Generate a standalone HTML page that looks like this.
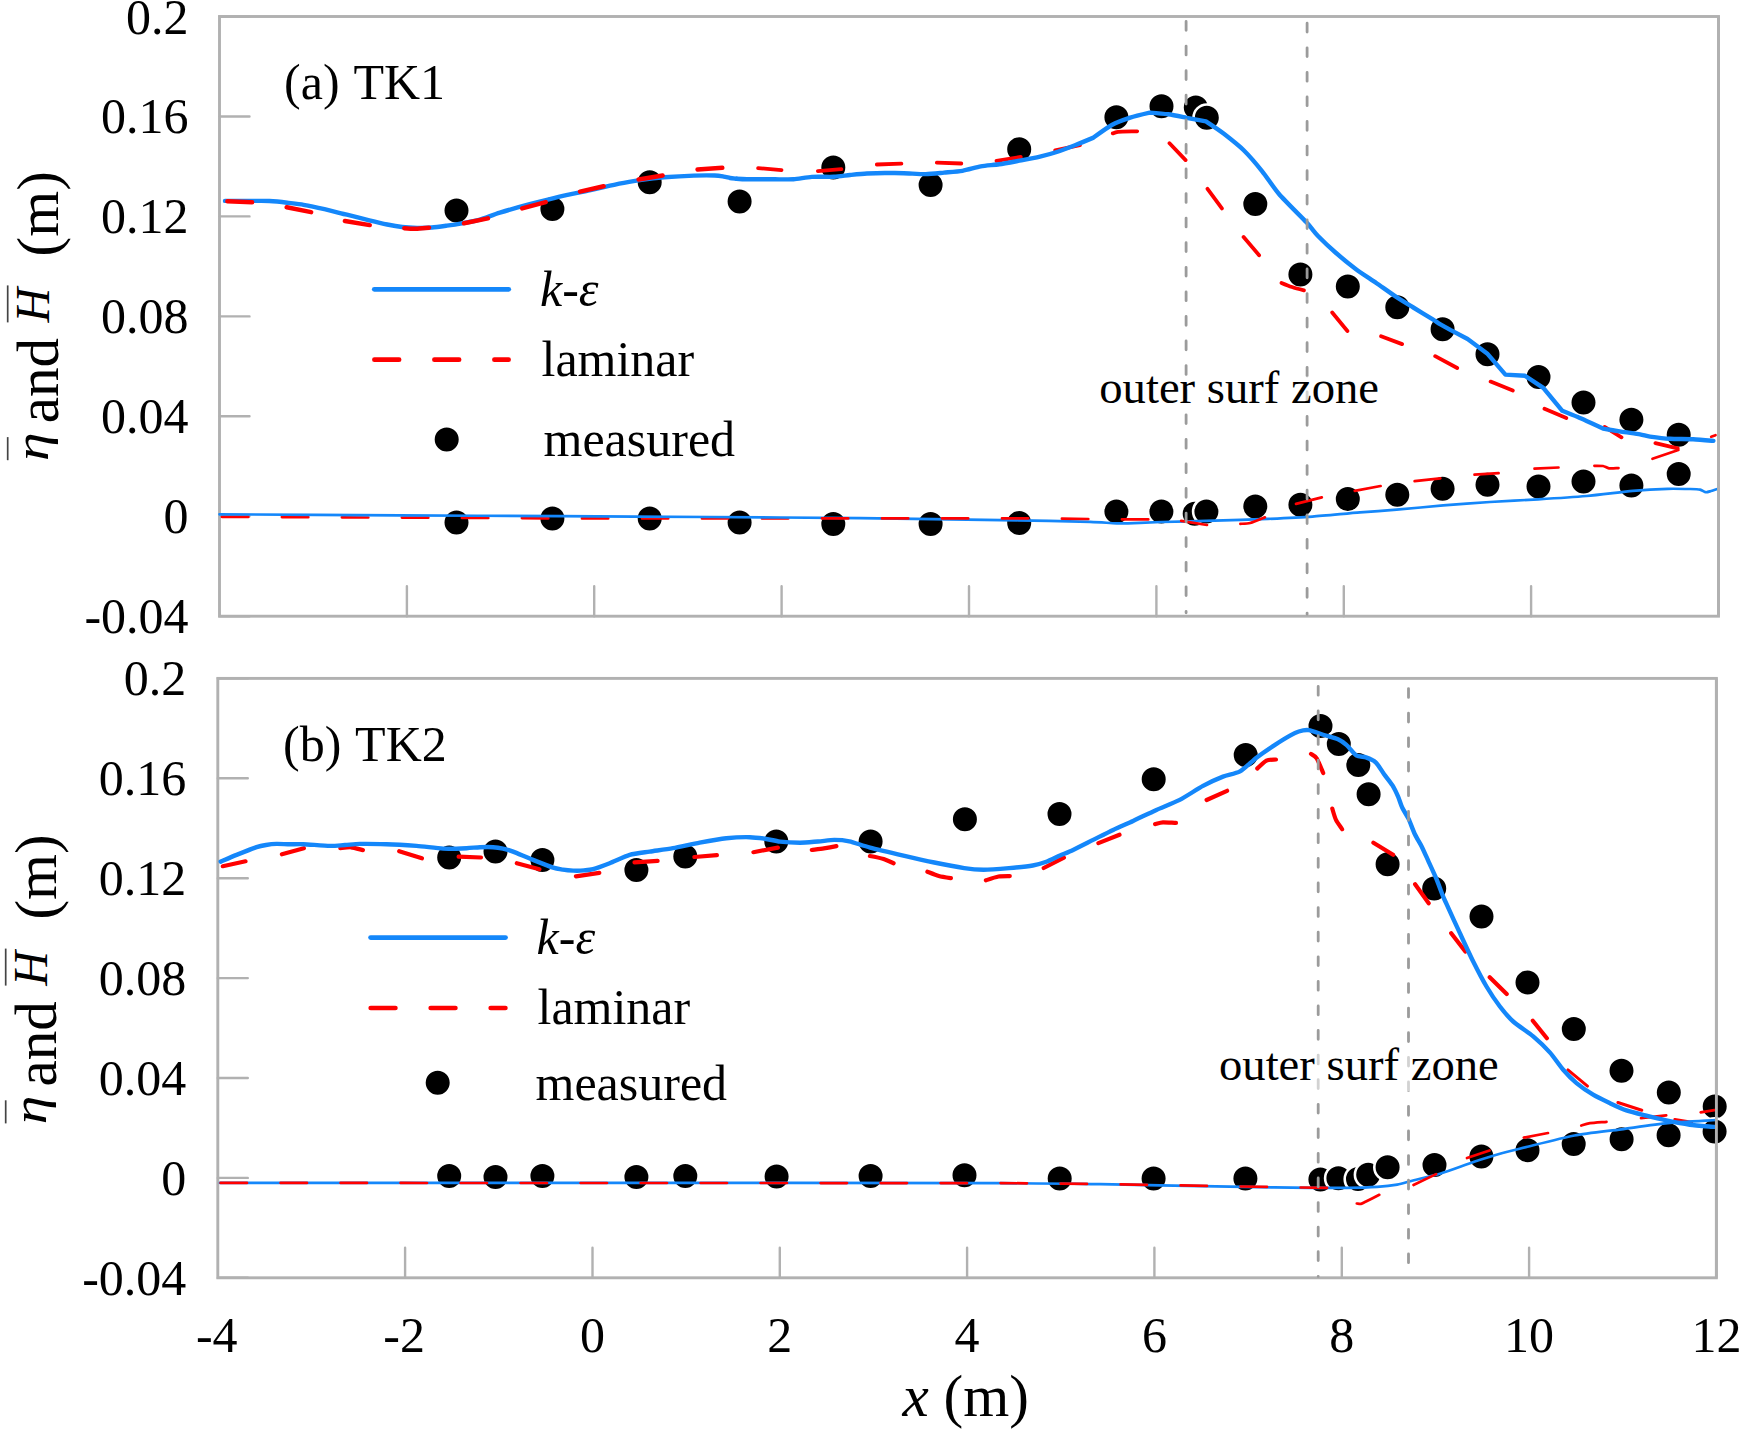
<!DOCTYPE html>
<html lang="en"><head><meta charset="utf-8"><title>Wave height and setup: TK1 and TK2</title>
<style>html,body{margin:0;padding:0;background:#fff}svg{display:block}</style></head>
<body>
<svg width="1742" height="1429" viewBox="0 0 1742 1429" font-family="'Liberation Serif','Times New Roman',serif" fill="#000">
<rect width="1742" height="1429" fill="#fff"/>
<path d="M406.9,616.2 L406.9,586.2 M594.2,616.2 L594.2,586.2 M781.6,616.2 L781.6,586.2 M969,616.2 L969,586.2 M1156.4,616.2 L1156.4,586.2 M1343.8,616.2 L1343.8,586.2 M1531.1,616.2 L1531.1,586.2 M219.5,16.5 L249.5,16.5 M219.5,116.5 L249.5,116.5 M219.5,216.4 L249.5,216.4 M219.5,316.4 L249.5,316.4 M219.5,416.3 L249.5,416.3 M219.5,516.2 L249.5,516.2 M219.5,616.2 L249.5,616.2" fill="none" stroke="#b1b1b1" stroke-width="2.4" stroke-linecap="round"/>
<rect x="219.5" y="16.5" width="1499" height="599.7" fill="none" stroke="#b1b1b1" stroke-width="2.9"/>
<circle cx="456.5" cy="210.6" r="13.3" fill="#000" stroke="#fff" stroke-width="2.6"/>
<circle cx="552.4" cy="208.9" r="13.3" fill="#000" stroke="#fff" stroke-width="2.6"/>
<circle cx="649.7" cy="182.3" r="13.3" fill="#000" stroke="#fff" stroke-width="2.6"/>
<circle cx="739.6" cy="201.6" r="13.3" fill="#000" stroke="#fff" stroke-width="2.6"/>
<circle cx="833.3" cy="167.6" r="13.3" fill="#000" stroke="#fff" stroke-width="2.6"/>
<circle cx="930.6" cy="184.9" r="13.3" fill="#000" stroke="#fff" stroke-width="2.6"/>
<circle cx="1019.2" cy="149.3" r="13.3" fill="#000" stroke="#fff" stroke-width="2.6"/>
<circle cx="1116.4" cy="117.3" r="13.3" fill="#000" stroke="#fff" stroke-width="2.6"/>
<circle cx="1161.5" cy="106.3" r="13.3" fill="#000" stroke="#fff" stroke-width="2.6"/>
<circle cx="1195.8" cy="107.5" r="13.3" fill="#000" stroke="#fff" stroke-width="2.6"/>
<circle cx="1206.8" cy="117.8" r="13.3" fill="#000" stroke="#fff" stroke-width="2.6"/>
<circle cx="1255.3" cy="203.9" r="13.3" fill="#000" stroke="#fff" stroke-width="2.6"/>
<circle cx="1300.4" cy="274.6" r="13.3" fill="#000" stroke="#fff" stroke-width="2.6"/>
<circle cx="1347.8" cy="286.5" r="13.3" fill="#000" stroke="#fff" stroke-width="2.6"/>
<circle cx="1397.3" cy="307.2" r="13.3" fill="#000" stroke="#fff" stroke-width="2.6"/>
<circle cx="1442.6" cy="329.2" r="13.3" fill="#000" stroke="#fff" stroke-width="2.6"/>
<circle cx="1487.5" cy="354.2" r="13.3" fill="#000" stroke="#fff" stroke-width="2.6"/>
<circle cx="1538.5" cy="377.1" r="13.3" fill="#000" stroke="#fff" stroke-width="2.6"/>
<circle cx="1583.5" cy="402.5" r="13.3" fill="#000" stroke="#fff" stroke-width="2.6"/>
<circle cx="1631.4" cy="419.8" r="13.3" fill="#000" stroke="#fff" stroke-width="2.6"/>
<circle cx="1678.7" cy="434.8" r="13.3" fill="#000" stroke="#fff" stroke-width="2.6"/>
<circle cx="456.5" cy="522.5" r="13.3" fill="#000" stroke="#fff" stroke-width="2.6"/>
<circle cx="552.4" cy="518.5" r="13.3" fill="#000" stroke="#fff" stroke-width="2.6"/>
<circle cx="649.7" cy="518.5" r="13.3" fill="#000" stroke="#fff" stroke-width="2.6"/>
<circle cx="739.6" cy="522.5" r="13.3" fill="#000" stroke="#fff" stroke-width="2.6"/>
<circle cx="833.3" cy="524" r="13.3" fill="#000" stroke="#fff" stroke-width="2.6"/>
<circle cx="930.6" cy="524" r="13.3" fill="#000" stroke="#fff" stroke-width="2.6"/>
<circle cx="1019.2" cy="523" r="13.3" fill="#000" stroke="#fff" stroke-width="2.6"/>
<circle cx="1116.4" cy="511.4" r="13.3" fill="#000" stroke="#fff" stroke-width="2.6"/>
<circle cx="1161.4" cy="511.4" r="13.3" fill="#000" stroke="#fff" stroke-width="2.6"/>
<circle cx="1194.7" cy="513.7" r="13.3" fill="#000" stroke="#fff" stroke-width="2.6"/>
<circle cx="1206.4" cy="511.4" r="13.3" fill="#000" stroke="#fff" stroke-width="2.6"/>
<circle cx="1255.3" cy="506.4" r="13.3" fill="#000" stroke="#fff" stroke-width="2.6"/>
<circle cx="1300.4" cy="504.7" r="13.3" fill="#000" stroke="#fff" stroke-width="2.6"/>
<circle cx="1347.8" cy="499" r="13.3" fill="#000" stroke="#fff" stroke-width="2.6"/>
<circle cx="1397.3" cy="494.7" r="13.3" fill="#000" stroke="#fff" stroke-width="2.6"/>
<circle cx="1442.6" cy="488.7" r="13.3" fill="#000" stroke="#fff" stroke-width="2.6"/>
<circle cx="1487.5" cy="484.7" r="13.3" fill="#000" stroke="#fff" stroke-width="2.6"/>
<circle cx="1538.5" cy="486.4" r="13.3" fill="#000" stroke="#fff" stroke-width="2.6"/>
<circle cx="1583.5" cy="481.4" r="13.3" fill="#000" stroke="#fff" stroke-width="2.6"/>
<circle cx="1631.4" cy="485.4" r="13.3" fill="#000" stroke="#fff" stroke-width="2.6"/>
<circle cx="1678.7" cy="474.1" r="13.3" fill="#000" stroke="#fff" stroke-width="2.6"/>
<path d="M225,200.9 C228.5,200.9 249,200.9 254.3,200.9 C259.6,200.9 265.4,200.8 269.3,201 C273.2,201.2 283.1,202.2 287.2,202.7 C291.3,203.2 299.1,204 303.6,204.8 C308.1,205.6 319.3,208 324.5,209.2 C329.7,210.4 341.5,213.4 346.9,214.7 C352.3,216 364.5,219.1 369.3,220.3 C374.1,221.5 383.3,223.7 387.2,224.5 C391.1,225.3 398.5,226.6 402.1,227 C405.7,227.4 413.4,227.8 417,227.9 C420.6,228 428.3,227.8 431.9,227.5 C435.5,227.2 443.3,226.1 446.9,225.6 C450.5,225.1 457.8,224 461.8,223.3 C465.8,222.6 475.4,220.9 480,219.6 C484.6,218.3 493.9,214.4 499.9,212.6 C505.9,210.8 522.5,206.1 529.7,204.2 C536.9,202.3 552.4,198.3 559.6,196.6 C566.8,194.9 582.2,191.9 589.4,190.4 C596.6,188.9 613,185 619.3,183.7 C625.6,182.4 636.2,180.7 641.6,179.9 C647,179.1 657.7,177.8 664,177.3 C670.3,176.8 687.8,175.8 693.9,175.6 C700,175.4 711.2,175.4 714.8,175.5 C718.4,175.6 721.9,176.3 723.7,176.6 C725.5,176.9 728.5,177.7 730,178 C731.5,178.3 735.7,178.7 736.5,178.8" fill="none" stroke="#1487fa" stroke-width="4.4" stroke-linecap="round" stroke-linejoin="round" />
<path d="M227.4,201.3 L252.1,202.3 M286.7,207.3 L311.1,212.1 M344.9,221 L369.7,225.1 M404.3,228.2 C405.7,228.3 413,228.8 416,228.7 C419,228.6 427.4,227.8 429,227.7 M464,223.2 L487.9,218.4 M522.2,208.4 L545.7,202.1 M580,191.6 L603.6,186.3 M638.6,179.5 L662.6,175.5 M697.6,169.5 L722.3,167.8" fill="none" stroke="#ff0000" stroke-width="4.5" stroke-linecap="round" stroke-linejoin="round"/>
<path d="M758.1,168.1 L781.5,170.2 M817.9,171.1 L841.4,169.2 M876.8,164.5 L901.4,163.7 M936.8,162.7 L961.3,163.5 M996.5,160.9 L1020.8,157 M1055.2,150.4 L1079.9,145.2 M1112.8,133.4 C1113.4,133.2 1115.1,132.1 1118,131.8 C1120.9,131.5 1134.9,131.4 1137.2,131.3 M1169.5,143.2 L1185.6,160.1 M1207.5,188.8 L1221.9,208.4 M1243.6,237 L1259.1,255.2 M1281.5,282.9 C1282.7,283.4 1289.3,286.1 1292,287 C1294.7,287.9 1302.4,290 1303.9,290.4 M1332.2,312.5 L1347.4,331 M1381.1,336.2 L1402.1,344.1 M1435.2,356.2 L1457.2,368 M1490.6,381.6 L1512.8,390.6 M1544.5,408.7 L1566.3,418 M1604.6,426.9 L1621.5,437.3 M1655.4,443.1 L1677.7,448.3" fill="none" stroke="#ff0000" stroke-width="3.8" stroke-linecap="round" stroke-linejoin="round"/>
<path d="M1711.2,436.7 L1715.5,435.2" fill="none" stroke="#ff0000" stroke-width="2.7" stroke-linecap="round" stroke-linejoin="round"/>
<path d="M221.9,516.8 L248.3,516.9 M281.9,517.1 L308.3,517.2 M341.9,517.3 L368.3,517.5 M401.9,517.6 L428.3,517.7 M461.9,517.9 L488.3,518 M521.9,518.1 L548.3,518.3 M582,518.4 L608.2,518.4 M642,518.4 L668.2,518.4 M702,518.4 L728.2,518.4 M762,518.4 L788.2,518.4" fill="none" stroke="#ff0000" stroke-width="2.7" stroke-linecap="round" stroke-linejoin="round"/>
<path d="M219.5,514.3 C241.2,514.4 359.1,515.1 400,515.3 C440.9,515.5 522.8,516 560,516.2 C597.2,516.4 674,516.8 710,517 C746,517.2 835.4,517.9 860,518.1 C884.6,518.3 896,518.6 915,518.9 C934,519.2 997,520 1018,520.3 C1039,520.6 1078.2,521.4 1090,521.8 C1101.8,522.2 1110.7,523.2 1116.7,523.3 C1122.7,523.4 1134.7,523 1140,522.8 C1145.3,522.6 1152,522.3 1161,522 C1170,521.7 1201.8,521.1 1214.6,520.7 C1227.4,520.3 1256.3,519.4 1268,518.9 C1279.7,518.4 1301.5,517.4 1312.5,516.6 C1323.5,515.8 1349.9,513.2 1360,512.4 C1370.1,511.6 1386.6,510.5 1396.6,509.7 C1406.6,508.9 1432,506.3 1443.2,505.4 C1454.4,504.5 1478.5,502.7 1489.9,502 C1501.3,501.3 1526.6,500 1538.2,499.3 C1549.8,498.6 1575,497 1586.4,496 C1597.8,495 1623.1,491.8 1632.8,490.9 C1642.5,490 1660.7,489 1667.6,488.8 C1674.5,488.6 1686.1,488.9 1690,489 C1693.9,489.1 1698.1,489.2 1700,489.6 C1701.9,490 1704.5,492 1705.8,492.2 C1707.1,492.4 1709.6,491.4 1711,491 C1712.4,490.6 1716.6,489.2 1717.4,489" fill="none" stroke="#1487fa" stroke-width="2.7" stroke-linecap="round" stroke-linejoin="round" />
<path d="M822,518.4 L848.2,518.4 M882,518.4 L908.2,518.4 M942,518.4 L968.2,518.4 M1002,518.4 L1028.2,518.4 M1061.9,518.7 L1088.3,519 M1121.9,519.3 L1148.3,519.4 M1181.2,520.9 L1207,525 M1240.4,523.8 C1241.6,523.7 1247.3,523.8 1250.2,523 C1253.1,522.2 1263.2,518 1264.9,517.3 M1296,503.9 L1321.8,497.4 M1354.7,490.8 L1380.6,486 M1414.6,481.2 L1440.3,478.3 M1474.5,474.7 L1498.6,473.2 M1534.5,468.7 L1558.5,467.5 M1594.4,465.8 C1595.5,465.8 1601.3,465.7 1603,466 C1604.7,466.3 1607.1,468 1609,468.3 C1610.9,468.6 1617.3,468.1 1618.5,468.1 M1652.5,458.8 L1678.3,450" fill="none" stroke="#ff0000" stroke-width="2.7" stroke-linecap="round" stroke-linejoin="round"/>
<path d="M736.5,178.8 C737.8,178.9 744.6,179.3 747,179.3 C749.4,179.3 753.3,179.2 756.7,179.2 C760.1,179.2 770.6,179.3 775,179.3 C779.4,179.3 789.1,179.5 793.5,179.2 C797.9,178.9 807,177.2 811.8,176.9 C816.6,176.6 829.3,177 833.9,176.8 C838.5,176.6 846,175.4 850,175 C854,174.6 862.7,173.7 866.9,173.5 C871.1,173.3 880.6,173 885,173 C889.4,173 898.8,173.1 903.7,173.2 C908.6,173.3 920.9,174.2 925.7,174.1 C930.5,174 939.6,173 944,172.6 C948.4,172.2 958.1,171.5 962.5,170.8 C966.9,170.1 976.4,167.2 980.8,166.4 C985.2,165.6 994.3,165 999.2,164.3 C1004.1,163.6 1016.4,161.2 1021.3,160.3 C1026.2,159.4 1035.8,157.6 1040,156.6 C1044.2,155.6 1052.5,153.4 1056.7,152 C1060.9,150.6 1070.6,146.9 1075,145.2 C1079.4,143.5 1093.5,137.6 1093.5,137.6 C1093.5,137.6 1107.4,127.4 1111.8,125 C1116.2,122.6 1125.7,119.1 1130.2,117.6 C1134.7,116.1 1149.7,112.6 1149.7,112.6 C1149.7,112.6 1163.7,113.7 1168.1,114.3 C1172.5,114.9 1182,116.9 1186.5,117.8 C1191,118.7 1205.9,121.4 1205.9,121.4 C1205.9,121.4 1219.1,130.1 1223.6,133.6 C1228.1,137.1 1239.1,145.8 1243.7,150.3 C1248.3,154.8 1258,166.1 1262.2,171.3 C1266.4,176.5 1273.7,187.8 1279,194 C1284.3,200.2 1302,217.6 1306.7,222.6 C1311.4,227.6 1314.5,232.4 1318,236 C1321.5,239.6 1330.9,248.5 1335.5,252.5 C1340.1,256.5 1351.1,265.5 1356,269.2 C1360.9,272.9 1371.7,279.8 1376.6,283.2 C1381.5,286.6 1392.2,294.3 1396.6,297.2 C1401,300.1 1408.9,304.8 1413.3,307.5 C1417.7,310.2 1430,317.6 1433.2,319.6 C1436.4,321.6 1437.9,322.9 1440,324.1 C1442.1,325.3 1450.3,329.9 1450.3,329.9 C1450.3,329.9 1467.6,339 1467.6,339 C1467.6,339 1487.1,353.4 1487.1,353.4 C1487.1,353.4 1505.4,374.6 1505.4,374.6 C1505.4,374.6 1525,375.8 1525,375.8 C1525,375.8 1543.3,387.8 1543.3,387.8 C1543.3,387.8 1562.3,410.8 1562.3,410.8 C1562.3,410.8 1572.9,415 1577.8,417.1 C1582.7,419.2 1603,428.6 1603,428.6 C1603,428.6 1616.6,430.9 1621,431.6 C1625.4,432.3 1636.5,433.7 1640,434.3 C1643.5,434.9 1646.4,436.1 1650,436.6 C1653.6,437.1 1664.6,438.5 1669.8,438.8 C1675,439.1 1687.9,439 1693.1,439.3 C1698.3,439.6 1711,440.7 1713.4,440.9" fill="none" stroke="#1487fa" stroke-width="4.4" stroke-linecap="round" stroke-linejoin="round" />
<path d="M1186.1,21.5 L1186.1,30.3 M1186.1,46.1 L1186.1,54.9 M1186.1,70.7 L1186.1,79.5 M1186.1,95.2 L1186.1,104 M1186.1,119.8 L1186.1,128.6 M1186.1,144.4 L1186.1,153.2 M1186.1,169 L1186.1,177.8 M1186.1,193.6 L1186.1,202.4 M1186.1,218.1 L1186.1,226.9 M1186.1,242.7 L1186.1,251.5 M1186.1,267.3 L1186.1,276.1 M1186.1,291.9 L1186.1,300.7 M1186.1,316.5 L1186.1,325.3 M1186.1,341 L1186.1,349.8 M1186.1,365.6 L1186.1,374.4 M1186.1,390.2 L1186.1,399 M1186.1,414.8 L1186.1,423.6 M1186.1,439.4 L1186.1,448.2 M1186.1,463.9 L1186.1,472.7 M1186.1,488.5 L1186.1,497.3 M1186.1,513.1 L1186.1,521.9 M1186.1,537.7 L1186.1,546.5 M1186.1,562.3 L1186.1,571.1 M1186.1,586.8 L1186.1,595.6 M1186.1,611.4 L1186.1,612.8" fill="none" stroke="#9b9b9b" stroke-width="2.8" stroke-linecap="round"/>
<path d="M1307.1,23.2 L1307.1,32 M1307.1,47.8 L1307.1,56.6 M1307.1,72.4 L1307.1,81.2 M1307.1,96.9 L1307.1,105.7 M1307.1,121.5 L1307.1,130.3 M1307.1,146.1 L1307.1,154.9 M1307.1,170.7 L1307.1,179.5 M1307.1,195.3 L1307.1,204.1 M1307.1,219.8 L1307.1,228.6 M1307.1,244.4 L1307.1,253.2 M1307.1,269 L1307.1,277.8 M1307.1,293.6 L1307.1,302.4 M1307.1,318.2 L1307.1,327 M1307.1,342.7 L1307.1,351.5 M1307.1,367.3 L1307.1,376.1 M1307.1,391.9 L1307.1,400.7 M1307.1,416.5 L1307.1,425.3 M1307.1,441.1 L1307.1,449.9 M1307.1,465.6 L1307.1,474.4 M1307.1,490.2 L1307.1,499 M1307.1,514.8 L1307.1,523.6 M1307.1,539.4 L1307.1,548.2 M1307.1,564 L1307.1,572.8 M1307.1,588.5 L1307.1,597.3 M1307.1,613.1 L1307.1,614.2" fill="none" stroke="#9b9b9b" stroke-width="2.8" stroke-linecap="round"/>
<path d="M1718.5,16.5 L1718.5,616.2" stroke="#b1b1b1" stroke-width="2.9" fill="none"/>
<path d="M405.1,1277.8 L405.1,1247.8 M592.5,1277.8 L592.5,1247.8 M779.8,1277.8 L779.8,1247.8 M967.1,1277.8 L967.1,1247.8 M1154.4,1277.8 L1154.4,1247.8 M1341.8,1277.8 L1341.8,1247.8 M1529.1,1277.8 L1529.1,1247.8 M217.8,678.4 L247.8,678.4 M217.8,778.3 L247.8,778.3 M217.8,878.2 L247.8,878.2 M217.8,978.1 L247.8,978.1 M217.8,1078 L247.8,1078 M217.8,1177.9 L247.8,1177.9 M217.8,1277.8 L247.8,1277.8" fill="none" stroke="#b1b1b1" stroke-width="2.4" stroke-linecap="round"/>
<rect x="217.8" y="678.4" width="1498.6" height="599.4" fill="none" stroke="#b1b1b1" stroke-width="2.9"/>
<circle cx="449.2" cy="857.6" r="13.3" fill="#000" stroke="#fff" stroke-width="2.6"/>
<circle cx="495.5" cy="851.6" r="13.3" fill="#000" stroke="#fff" stroke-width="2.6"/>
<circle cx="542.4" cy="859.9" r="13.3" fill="#000" stroke="#fff" stroke-width="2.6"/>
<circle cx="636.4" cy="869.9" r="13.3" fill="#000" stroke="#fff" stroke-width="2.6"/>
<circle cx="685.3" cy="856.6" r="13.3" fill="#000" stroke="#fff" stroke-width="2.6"/>
<circle cx="776.3" cy="841.6" r="13.3" fill="#000" stroke="#fff" stroke-width="2.6"/>
<circle cx="870.6" cy="841.6" r="13.3" fill="#000" stroke="#fff" stroke-width="2.6"/>
<circle cx="964.9" cy="819.2" r="13.3" fill="#000" stroke="#fff" stroke-width="2.6"/>
<circle cx="1059.5" cy="813.9" r="13.3" fill="#000" stroke="#fff" stroke-width="2.6"/>
<circle cx="1153.7" cy="779.3" r="13.3" fill="#000" stroke="#fff" stroke-width="2.6"/>
<circle cx="1245.7" cy="755" r="13.3" fill="#000" stroke="#fff" stroke-width="2.6"/>
<circle cx="1320.5" cy="726" r="13.3" fill="#000" stroke="#fff" stroke-width="2.6"/>
<circle cx="1338.8" cy="744" r="13.3" fill="#000" stroke="#fff" stroke-width="2.6"/>
<circle cx="1358.3" cy="765" r="13.3" fill="#000" stroke="#fff" stroke-width="2.6"/>
<circle cx="1368.6" cy="794.3" r="13.3" fill="#000" stroke="#fff" stroke-width="2.6"/>
<circle cx="1387.6" cy="864.2" r="13.3" fill="#000" stroke="#fff" stroke-width="2.6"/>
<circle cx="1434.2" cy="888.5" r="13.3" fill="#000" stroke="#fff" stroke-width="2.6"/>
<circle cx="1481.5" cy="916.5" r="13.3" fill="#000" stroke="#fff" stroke-width="2.6"/>
<circle cx="1527.5" cy="982.5" r="13.3" fill="#000" stroke="#fff" stroke-width="2.6"/>
<circle cx="1573.8" cy="1029.1" r="13.3" fill="#000" stroke="#fff" stroke-width="2.6"/>
<circle cx="1621.5" cy="1070.8" r="13.3" fill="#000" stroke="#fff" stroke-width="2.6"/>
<circle cx="1668.8" cy="1092.4" r="13.3" fill="#000" stroke="#fff" stroke-width="2.6"/>
<circle cx="1714.7" cy="1106.4" r="13.3" fill="#000" stroke="#fff" stroke-width="2.6"/>
<circle cx="449.2" cy="1176" r="13.3" fill="#000" stroke="#fff" stroke-width="2.6"/>
<circle cx="495.5" cy="1177" r="13.3" fill="#000" stroke="#fff" stroke-width="2.6"/>
<circle cx="542.4" cy="1176" r="13.3" fill="#000" stroke="#fff" stroke-width="2.6"/>
<circle cx="636.4" cy="1177" r="13.3" fill="#000" stroke="#fff" stroke-width="2.6"/>
<circle cx="685.3" cy="1176" r="13.3" fill="#000" stroke="#fff" stroke-width="2.6"/>
<circle cx="776.6" cy="1176.6" r="13.3" fill="#000" stroke="#fff" stroke-width="2.6"/>
<circle cx="870.6" cy="1176" r="13.3" fill="#000" stroke="#fff" stroke-width="2.6"/>
<circle cx="964.5" cy="1175.3" r="13.3" fill="#000" stroke="#fff" stroke-width="2.6"/>
<circle cx="1059.7" cy="1178.6" r="13.3" fill="#000" stroke="#fff" stroke-width="2.6"/>
<circle cx="1153.6" cy="1178.6" r="13.3" fill="#000" stroke="#fff" stroke-width="2.6"/>
<circle cx="1245.4" cy="1178.6" r="13.3" fill="#000" stroke="#fff" stroke-width="2.6"/>
<circle cx="1320.4" cy="1179.5" r="13.3" fill="#000" stroke="#fff" stroke-width="2.6"/>
<circle cx="1338.4" cy="1178.3" r="13.3" fill="#000" stroke="#fff" stroke-width="2.6"/>
<circle cx="1358" cy="1179" r="13.3" fill="#000" stroke="#fff" stroke-width="2.6"/>
<circle cx="1368.2" cy="1174.8" r="13.3" fill="#000" stroke="#fff" stroke-width="2.6"/>
<circle cx="1387.6" cy="1167.2" r="13.3" fill="#000" stroke="#fff" stroke-width="2.6"/>
<circle cx="1434.5" cy="1165" r="13.3" fill="#000" stroke="#fff" stroke-width="2.6"/>
<circle cx="1481.4" cy="1156.6" r="13.3" fill="#000" stroke="#fff" stroke-width="2.6"/>
<circle cx="1527.5" cy="1150.2" r="13.3" fill="#000" stroke="#fff" stroke-width="2.6"/>
<circle cx="1573.7" cy="1144" r="13.3" fill="#000" stroke="#fff" stroke-width="2.6"/>
<circle cx="1621.6" cy="1139.2" r="13.3" fill="#000" stroke="#fff" stroke-width="2.6"/>
<circle cx="1668.6" cy="1135.2" r="13.3" fill="#000" stroke="#fff" stroke-width="2.6"/>
<circle cx="1714.6" cy="1131.6" r="13.3" fill="#000" stroke="#fff" stroke-width="2.6"/>
<path d="M222.8,866.2 L245.5,861.3 M281.9,854.3 L303.9,848.2 M340.3,848.1 C341.6,848 348.3,847.1 351,847.3 C353.7,847.5 361.4,849.8 362.9,850.1 M399.2,851.2 L421.9,858.3 M458.6,856.7 L481,857.5 M516.8,863.2 L539.4,869.3 M575.9,876.3 L599.3,872.9 M634.5,862.4 L657.6,860.8 M694.4,857 L716.9,855.1 M753.4,852.2 L777.9,847.6" fill="none" stroke="#ff0000" stroke-width="4.2" stroke-linecap="round" stroke-linejoin="round"/>
<path d="M811.8,850 C813.2,849.8 820.9,848.9 823.9,848.4 C826.9,847.9 834.9,846.4 836.4,846.1 M869.9,856 C871.6,856.3 880.8,858.1 883.6,859 C886.4,859.9 892.4,862.7 893.6,863.2 M927.4,871.7 C928.7,872.2 936,875.2 938.8,876 C941.6,876.8 949.5,877.9 950.9,878.1 M985.9,880.3 C987.4,879.8 995.6,877 998.5,876.5 C1001.4,876 1008.4,876.1 1009.8,876.1 M1043.7,868 L1063.9,857.6 M1098.4,843.1 L1119.5,834.7 M1155.1,824.1 C1156.1,823.9 1160.5,822.5 1163,822.4 C1165.5,822.3 1174.4,822.9 1176,822.9 M1206.6,800 L1227.1,790.8 M1257.3,768.5 C1258.4,767.6 1264.2,761.7 1266.4,760.6 C1268.6,759.5 1274.8,759.7 1275.9,759.5 M1311,753.9 C1311.7,754.4 1315.2,756 1316.7,758.3 C1318.2,760.6 1322.4,771.2 1323.2,773 M1332.3,808.6 C1332.7,810 1334.8,817.4 1336,819.9 C1337.2,822.4 1341.4,828 1342.1,829.2 M1373.4,842.7 L1393.1,854.8 M1415.1,884.2 L1428.7,903.2 M1451.2,933.2 L1465.3,951.5 M1489.7,977.3 L1506.7,994 M1532.8,1020.7 L1546.9,1038.2" fill="none" stroke="#ff0000" stroke-width="4.2" stroke-linecap="round" stroke-linejoin="round"/>
<path d="M1567.9,1069.9 L1587.5,1086.1 M1617.9,1102.5 L1641.8,1110.2 M1674.8,1119.5 L1691.6,1122.3" fill="none" stroke="#ff0000" stroke-width="3.0" stroke-linecap="round" stroke-linejoin="round"/>
<path d="M220,1182.9 C265.6,1182.9 506.4,1182.9 600,1182.9 C693.6,1182.9 940,1183 1000,1183.2 C1060,1183.4 1080.8,1183.9 1100,1184.2 C1119.2,1184.5 1142.8,1185 1160,1185.3 C1177.2,1185.6 1225.5,1186.6 1243.5,1186.9 C1261.5,1187.2 1298,1187.7 1310.4,1187.8 C1322.8,1187.9 1339.1,1188 1347.1,1187.9 C1355.1,1187.8 1371.2,1187.3 1377.2,1186.9 C1383.2,1186.5 1392.8,1185.4 1397.2,1184.6 C1401.6,1183.8 1408.7,1181.5 1413.9,1180.2 C1419.1,1178.9 1433.5,1175.7 1440.7,1173.5 C1447.9,1171.3 1466.9,1164.2 1474.1,1161.8 C1481.3,1159.4 1494.4,1155.3 1500.8,1153.5 C1507.2,1151.7 1518.7,1149 1527.5,1146.8 C1536.3,1144.6 1563.3,1137.6 1574.5,1135.5 C1585.7,1133.4 1610,1130.8 1621.2,1129.3 C1632.4,1127.8 1656.4,1124.2 1667.7,1123.1 C1679,1122 1709.9,1120.4 1715.7,1120" fill="none" stroke="#1487fa" stroke-width="2.7" stroke-linecap="round" stroke-linejoin="round" />
<path d="M220.6,1182.9 L247,1182.9 M280.6,1182.9 L307,1182.9 M340.6,1182.9 L367,1182.9 M400.6,1182.9 L427,1183 M460.6,1183 L487,1183 M520.6,1183 L547,1183 M580.6,1183 L607,1183 M640.6,1183 L667,1183 M700.6,1183 L727,1183 M760.6,1183 L787,1183 M820.6,1183.1 L847,1183.1 M880.6,1183.1 L907,1183.1 M940.6,1183.1 L967,1183.1 M1000.6,1183.1 L1027,1183.3 M1060.6,1183.6 L1087,1183.9 M1120.6,1184.4 L1147,1184.8 M1180.6,1185.4 L1207,1185.9 M1240.6,1186.5 L1267,1186.9 M1300.6,1187.5 L1327,1187.9 M1356.8,1203.5 C1357.3,1203.5 1359.9,1204 1361,1203.8 C1362.1,1203.6 1363.8,1202.6 1366,1201.5 C1368.2,1200.4 1377.7,1195.6 1379.3,1194.8 M1413.5,1185 L1436.1,1174.1 M1467,1158 L1489.5,1150.5 M1523.8,1137.6 L1548,1133 M1581.3,1125.5 C1582.3,1125.2 1587,1123.6 1590,1123.2 C1593,1122.8 1604.5,1122 1606.5,1121.8 M1641,1118.1 L1666.2,1115.3 M1700.7,1112.3 L1714.4,1110.1" fill="none" stroke="#ff0000" stroke-width="2.7" stroke-linecap="round" stroke-linejoin="round"/>
<path d="M220.7,861.6 C222.6,860.8 232.3,856.6 236.6,854.9 C240.9,853.2 253.1,848.4 256.6,847.2 C260.1,846 263.6,845.4 266,845 C268.4,844.6 273.7,844 276.6,843.9 C279.5,843.8 286.8,844.3 290,844.3 C293.2,844.3 298.5,844 303.3,844.2 C308.1,844.4 324.9,845.8 329.9,845.9 C334.9,846 341.4,845.2 345,845 C348.6,844.8 354.9,844 359.9,843.9 C364.9,843.8 379.7,844 386.5,844.2 C393.3,844.4 409.7,845.4 416.5,845.9 C423.3,846.4 437.2,848.3 443.2,848.6 C449.2,848.9 462.1,848.4 466.5,848.2 C470.9,848 476.8,847.3 480,847.2 C483.2,847.1 490.3,847 493.1,847.2 C495.9,847.4 500.6,848.1 503,848.6 C505.4,849.1 509.5,850.2 513.1,851.6 C516.7,853 528.3,858 533.1,859.9 C537.9,861.8 549.5,866.4 553.1,867.6 C556.7,868.8 560.6,869.2 563,869.6 C565.4,870 570.6,870.5 573.1,870.6 C575.6,870.7 581.6,870.6 584,870.4 C586.4,870.2 590,870.1 593.1,869.2 C596.2,868.3 605.3,864.9 609.7,863.2 C614.1,861.5 624.9,856.3 629.7,854.9 C634.5,853.5 644.5,852.4 649.7,851.6 C654.9,850.8 667,849.3 673,848.2 C679,847.1 693.3,843.8 699.7,842.6 C706.1,841.4 720.3,838.8 726.3,838.2 C732.3,837.6 745.1,837.1 749.7,837.2 C754.3,837.3 761.4,838.2 765,838.7 C768.6,839.2 775.8,841.1 780,841.6 C784.2,842.1 795.4,842.7 800,842.7 C804.6,842.7 813.9,841.8 818,841.5 C822.1,841.2 830.5,839.9 834.3,839.9 C838.1,839.9 845,840.4 849.3,841.3 C853.6,842.2 863.5,845.9 870.1,847.6 C876.7,849.3 896.8,854 904.5,855.8 C912.2,857.6 927.1,861 934.3,862.5 C941.5,864 958.3,867.2 964.2,868.1 C970.1,869 978.2,869.7 983.6,869.7 C989,869.7 1003.1,868.6 1009,868.1 C1014.9,867.6 1028.3,866.3 1032.8,865.5 C1037.3,864.7 1043,863 1046.3,861.8 C1049.6,860.6 1056.8,856.9 1060,855.5 C1063.2,854.1 1069.1,851.8 1073.1,849.9 C1077.1,848 1088.3,842.3 1093.1,839.9 C1097.9,837.5 1108.3,832.2 1113.1,829.9 C1117.9,827.6 1127.9,823.3 1133.1,820.9 C1138.3,818.5 1150.8,812.4 1156.4,809.9 C1162,807.4 1174.1,802.8 1179.7,799.9 C1185.3,797 1197.8,788.7 1203,785.9 C1208.2,783.1 1218.6,778.3 1223,776.6 C1227.4,774.9 1235.9,773.7 1240,771.4 C1244.1,769.1 1252.6,760.6 1256.8,757.4 C1261,754.2 1271,747.4 1275,744.8 C1279,742.2 1287.1,737.2 1290,735.6 C1292.9,734 1296.6,732.2 1298.8,731.5 C1301,730.8 1305.6,729.7 1308.6,730.1 C1311.6,730.5 1320.5,733.9 1324,735 C1327.5,736.1 1335.3,738 1338,739.2 C1340.7,740.4 1344.2,742.9 1346.4,744.8 C1348.6,746.7 1353.8,753.8 1356.2,755.3 C1358.6,756.8 1363.7,756.6 1366,757.4 C1368.3,758.2 1373.5,760.3 1375.7,762.3 C1377.9,764.3 1382.1,771.4 1384.1,774.2 C1386.1,777 1390.8,782.7 1392.5,785.4 C1394.2,788.1 1396.9,793.9 1398.1,796.6 C1399.3,799.3 1401,805.1 1402.3,807.8 C1403.6,810.5 1407.1,815.7 1408.6,818.9 C1410.1,822.1 1413.3,830.9 1414.9,834.3 C1416.5,837.7 1420.2,843.5 1421.9,846.9 C1423.6,850.3 1427.2,858.6 1428.9,862.3 C1430.6,866 1434.2,873.7 1435.9,877.7 C1437.6,881.7 1441.6,892.7 1442.9,895.9 C1444.2,899.1 1444.6,899.7 1446.6,904.2 C1448.6,908.7 1456.7,926.3 1459.9,933.2 C1463.1,940.1 1470,955.1 1473.2,961.5 C1476.4,967.9 1483.3,981.1 1486.5,986.5 C1489.7,991.9 1496.7,1002.3 1499.9,1006.5 C1503.1,1010.7 1509.2,1017.9 1513.2,1021.5 C1517.2,1025.1 1528.8,1032.7 1533.2,1036.4 C1537.6,1040.1 1546.2,1048.4 1549.8,1052.4 C1553.4,1056.4 1560,1066.1 1563.2,1069.8 C1566.4,1073.5 1572.9,1080.1 1576.5,1083.1 C1580.1,1086.1 1589.1,1092.3 1593.1,1094.7 C1597.1,1097.1 1605.8,1101.2 1609.8,1103.1 C1613.8,1105 1622,1108.9 1626.4,1110.4 C1630.8,1111.9 1641.6,1114.5 1646.4,1115.7 C1651.2,1116.9 1661.2,1119.3 1666.4,1120.4 C1671.6,1121.5 1683.9,1123.9 1689.7,1124.7 C1695.5,1125.5 1711.6,1126.6 1714.6,1126.9" fill="none" stroke="#1487fa" stroke-width="4.4" stroke-linecap="round" stroke-linejoin="round" />
<path d="M1318.2,686.4 L1318.2,695.2 M1318.2,711 L1318.2,719.8 M1318.2,735.6 L1318.2,744.4 M1318.2,760.1 L1318.2,768.9 M1318.2,784.7 L1318.2,793.5 M1318.2,809.3 L1318.2,818.1 M1318.2,833.9 L1318.2,842.7 M1318.2,858.5 L1318.2,867.3 M1318.2,883 L1318.2,891.8 M1318.2,907.6 L1318.2,916.4 M1318.2,932.2 L1318.2,941 M1318.2,956.8 L1318.2,965.6 M1318.2,981.4 L1318.2,990.2 M1318.2,1005.9 L1318.2,1014.7 M1318.2,1030.5 L1318.2,1039.3 M1318.2,1055.1 L1318.2,1063.9 M1318.2,1079.7 L1318.2,1088.5 M1318.2,1104.3 L1318.2,1113.1 M1318.2,1128.8 L1318.2,1137.6 M1318.2,1153.4 L1318.2,1162.2 M1318.2,1178 L1318.2,1186.8 M1318.2,1202.6 L1318.2,1211.4 M1318.2,1227.2 L1318.2,1236 M1318.2,1251.7 L1318.2,1260.5 M1318.2,1276.3 L1318.2,1276.4" fill="none" stroke="#9b9b9b" stroke-width="2.8" stroke-linecap="round"/>
<path d="M1408.5,688.6 L1408.5,697.4 M1408.5,713.2 L1408.5,722 M1408.5,737.8 L1408.5,746.6 M1408.5,762.3 L1408.5,771.1 M1408.5,786.9 L1408.5,795.7 M1408.5,811.5 L1408.5,820.3 M1408.5,836.1 L1408.5,844.9 M1408.5,860.7 L1408.5,869.5 M1408.5,885.2 L1408.5,894 M1408.5,909.8 L1408.5,918.6 M1408.5,934.4 L1408.5,943.2 M1408.5,959 L1408.5,967.8 M1408.5,983.6 L1408.5,992.4 M1408.5,1008.1 L1408.5,1016.9 M1408.5,1032.7 L1408.5,1041.5 M1408.5,1057.3 L1408.5,1066.1 M1408.5,1081.9 L1408.5,1090.7 M1408.5,1106.5 L1408.5,1115.3 M1408.5,1131 L1408.5,1139.8 M1408.5,1155.6 L1408.5,1164.4 M1408.5,1180.2 L1408.5,1189 M1408.5,1204.8 L1408.5,1213.6 M1408.5,1229.4 L1408.5,1238.2 M1408.5,1253.9 L1408.5,1262.7" fill="none" stroke="#9b9b9b" stroke-width="2.8" stroke-linecap="round"/>
<path d="M1716.4,678.4 L1716.4,1277.8" stroke="#b1b1b1" stroke-width="2.9" fill="none"/>
<path d="M374.3,289.3 L508.7,289.3" stroke="#1487fa" stroke-width="4.8" stroke-linecap="round" fill="none"/>
<path d="M374.4,359.7 L399.1,359.7 M434.4,359.7 L459.1,359.7 M494.4,359.7 L508.6,359.7" fill="none" stroke="#ff0000" stroke-width="4.7" stroke-linecap="round" stroke-linejoin="round"/>
<circle cx="446.7" cy="439.6" r="13.3" fill="#000" stroke="#fff" stroke-width="2.6"/>
<text x="540" y="305.8" font-size="50"><tspan font-style="italic">k</tspan>-<tspan font-style="italic">ε</tspan></text>
<text x="541.5" y="376.3" font-size="50" text-anchor="start" >laminar</text>
<text x="543.5" y="456.3" font-size="50" text-anchor="start" >measured</text>
<path d="M370.6,937.6 L505.5,937.6" stroke="#1487fa" stroke-width="4.8" stroke-linecap="round" fill="none"/>
<path d="M370.7,1008 L395.4,1008 M430.7,1008 L455.4,1008 M490.7,1008 L505.4,1008" fill="none" stroke="#ff0000" stroke-width="4.7" stroke-linecap="round" stroke-linejoin="round"/>
<circle cx="437.7" cy="1082.7" r="13.3" fill="#000" stroke="#fff" stroke-width="2.6"/>
<text x="536.6" y="954.1" font-size="50"><tspan font-style="italic">k</tspan>-<tspan font-style="italic">ε</tspan></text>
<text x="537.5" y="1024.4" font-size="50" text-anchor="start" >laminar</text>
<text x="535.5" y="1099.6" font-size="50" text-anchor="start" >measured</text>
<text x="284.1" y="99.3" font-size="50" text-anchor="start" word-spacing="2.2">(a) TK1</text>
<text x="283" y="760.6" font-size="50" text-anchor="start" word-spacing="2.2">(b) TK2</text>
<rect x="1092" y="376.5" width="294" height="36.5" fill="#fff" fill-opacity="0.55"/>
<rect x="1212" y="1052" width="294" height="39.5" fill="#fff" fill-opacity="0.55"/>
<text x="1099.3" y="402.5" font-size="46.65" text-anchor="start" >outer surf zone</text>
<text x="1219" y="1079.7" font-size="46.65" text-anchor="start" >outer surf zone</text>
<text x="188.6" y="33.5" font-size="50" text-anchor="end" >0.2</text>
<text x="188.6" y="133.4" font-size="50" text-anchor="end" >0.16</text>
<text x="188.6" y="233.4" font-size="50" text-anchor="end" >0.12</text>
<text x="188.6" y="333.4" font-size="50" text-anchor="end" >0.08</text>
<text x="188.6" y="433.3" font-size="50" text-anchor="end" >0.04</text>
<text x="188.6" y="533.2" font-size="50" text-anchor="end" >0</text>
<text x="188.6" y="633.2" font-size="50" text-anchor="end" >-0.04</text>
<text x="186.3" y="695.4" font-size="50" text-anchor="end" >0.2</text>
<text x="186.3" y="795.3" font-size="50" text-anchor="end" >0.16</text>
<text x="186.3" y="895.2" font-size="50" text-anchor="end" >0.12</text>
<text x="186.3" y="995.1" font-size="50" text-anchor="end" >0.08</text>
<text x="186.3" y="1095" font-size="50" text-anchor="end" >0.04</text>
<text x="186.3" y="1194.9" font-size="50" text-anchor="end" >0</text>
<text x="186.3" y="1294.8" font-size="50" text-anchor="end" >-0.04</text>
<text x="216.8" y="1351.7" font-size="50" text-anchor="middle" >-4</text>
<text x="404.1" y="1351.7" font-size="50" text-anchor="middle" >-2</text>
<text x="592.5" y="1351.7" font-size="50" text-anchor="middle" >0</text>
<text x="779.8" y="1351.7" font-size="50" text-anchor="middle" >2</text>
<text x="967.1" y="1351.7" font-size="50" text-anchor="middle" >4</text>
<text x="1154.4" y="1351.7" font-size="50" text-anchor="middle" >6</text>
<text x="1341.8" y="1351.7" font-size="50" text-anchor="middle" >8</text>
<text x="1529.1" y="1351.7" font-size="50" text-anchor="middle" >10</text>
<text x="1716.4" y="1351.7" font-size="50" text-anchor="middle" >12</text>
<text x="902.5" y="1415.8" font-size="59.2"><tspan font-style="italic">x</tspan> (m)</text>
<text transform="translate(48.3,461) rotate(-90) scale(1.2,1)" font-size="48" font-style="italic">η</text>
<text transform="translate(58.2,423.3) rotate(-90)" font-size="59.2">and</text>
<text transform="translate(49,322.5) rotate(-90)" font-size="48" font-style="italic">H</text>
<text transform="translate(58.2,256.4) rotate(-90)" font-size="59">(m)</text>
<path d="M7.7,437.1 L7.7,460.2" stroke="#444" stroke-width="1.7" fill="none"/>
<path d="M7.7,285.4 L7.7,322.4" stroke="#444" stroke-width="1.7" fill="none"/>
<text transform="translate(46.3,1124.2) rotate(-90) scale(1.2,1)" font-size="48" font-style="italic">η</text>
<text transform="translate(56.2,1086.5) rotate(-90)" font-size="59.2">and</text>
<text transform="translate(47,985.7) rotate(-90)" font-size="48" font-style="italic">H</text>
<text transform="translate(56.2,919.6) rotate(-90)" font-size="59">(m)</text>
<path d="M5.7,1100.3 L5.7,1123.4" stroke="#444" stroke-width="1.7" fill="none"/>
<path d="M5.7,948.6 L5.7,985.6" stroke="#444" stroke-width="1.7" fill="none"/>
</svg>
</body></html>
